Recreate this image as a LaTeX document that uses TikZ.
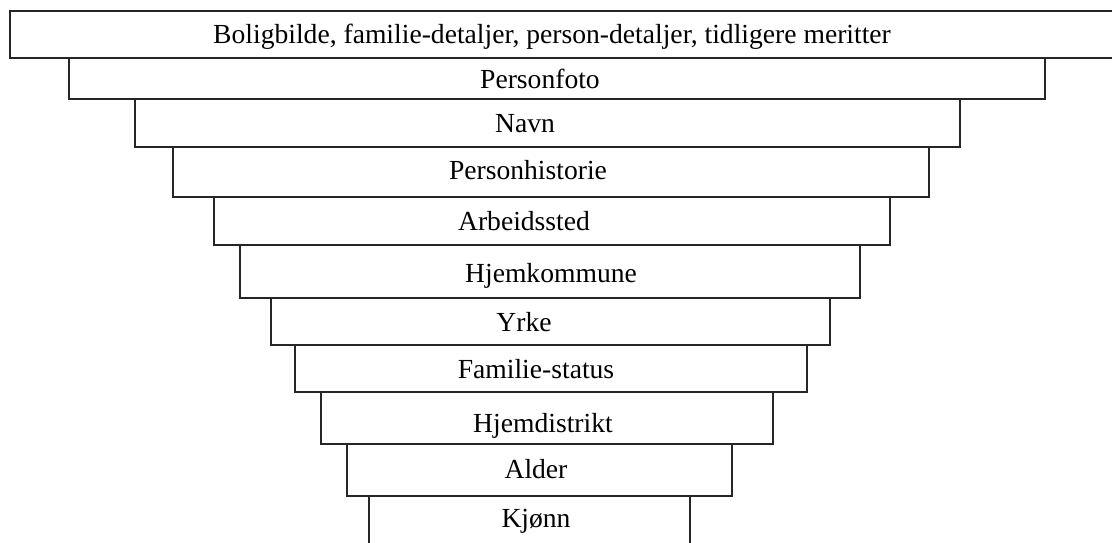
\documentclass[tikz,border=0pt]{standalone}
\usepackage{fontspec}
\setmainfont{Liberation Serif}
\begin{document}
\begin{tikzpicture}[x=1pt,y=-1pt,line join=miter,line width=1.3pt,font=\fontsize{27.6}{30}\selectfont]
	\useasboundingbox (0,0) rectangle (1112,542);
	\clip (0,0) rectangle (1112,542);
	% trinnene, fra toppen og ned
	\foreach \l/\t/\r/\b in {10/11/1130/58,69/58/1045/99,135/99/960/147,173/147/929/197,214/197/890/245,240/245/860/298,271/298/830/345,295/345/807/392,321/392/773/444,347/444/732/496,369/496/690/560}
	\draw[black!85] (\l,\t) rectangle (\r,\b);
	\foreach \n/\x/\y/\s in {bolig/552/43/{Boligbilde, familie-detaljer, person-detaljer, tidligere meritter},foto/540/88/Personfoto,navn/525/132/Navn,historie/528/179/Personhistorie,arbeid/524/230/Arbeidssted,kommune/551/282/Hjemkommune,yrke/524/331/Yrke,status/536/378/Familie-status,distrikt/543/432/Hjemdistrikt,alder/536/478/Alder,kjonn/536/527/Kjønn}
	\node[anchor=base,inner sep=0pt] (\n) at (\x,\y) {\s};
\end{tikzpicture}
\end{document}
